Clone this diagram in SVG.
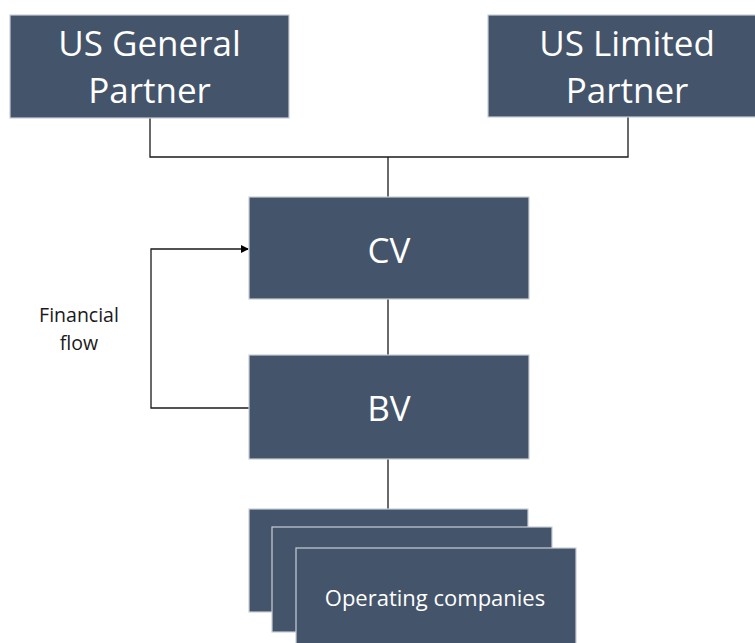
<svg xmlns="http://www.w3.org/2000/svg" width="755" height="643" viewBox="0 0 755 643">
<defs>
<style>
.box{fill:#44546A;stroke:#c9ced6;stroke-width:1.2}
.t{fill:#ffffff;font-family:"Open Sans","Liberation Sans",sans-serif;text-anchor:middle}
.big{font-size:35px}
.mid{font-size:22px}
.lbl{fill:#1a1a1a;font-family:"Open Sans","Liberation Sans",sans-serif;font-size:19.5px;text-anchor:middle}
.ln{fill:none;stroke:#1a1a1a;stroke-width:1.3}
</style>
<marker id="ah" markerWidth="8" markerHeight="8" refX="7" refY="4" orient="auto" markerUnits="userSpaceOnUse">
<path d="M0,0 L8,4 L0,8 Z" fill="#000"/>
</marker>
</defs>
<rect width="755" height="643" fill="#ffffff"/>
<g id="connectors">
<path class="ln" d="M150,118 V157 H628 V117"/>
<path class="ln" d="M388,157 V197"/>
<path class="ln" d="M388,299 V355"/>
<path class="ln" d="M388,459 V509"/>
<path class="ln" d="M249,408 H151 V249 H248" marker-end="url(#ah)"/>
</g>
<g id="gp">
<rect class="box" x="10" y="15" width="279" height="103"/>
<text class="t big" x="149.5" y="56">US General</text>
<text class="t big" x="149.5" y="103">Partner</text>
</g>
<g id="lp">
<rect class="box" x="488" y="15" width="275" height="102"/>
<text class="t big" x="627" y="56">US Limited</text>
<text class="t big" x="627" y="103">Partner</text>
</g>
<g id="cv">
<rect class="box" x="249" y="197" width="280" height="102"/>
<text class="t big" x="389" y="263">CV</text>
</g>
<g id="bv">
<rect class="box" x="249" y="355" width="280" height="104"/>
<text class="t big" x="389" y="421">BV</text>
</g>
<g id="opcos">
<rect class="box" x="249" y="509" width="279" height="103"/>
<rect class="box" x="272" y="527" width="280" height="105"/>
<rect class="box" x="296" y="548" width="280" height="104"/>
<text class="t mid" x="435" y="606">Operating companies</text>
</g>
<g id="flow-label">
<text class="lbl" x="79" y="322">Financial</text>
<text class="lbl" x="79" y="350">flow</text>
</g>
</svg>
